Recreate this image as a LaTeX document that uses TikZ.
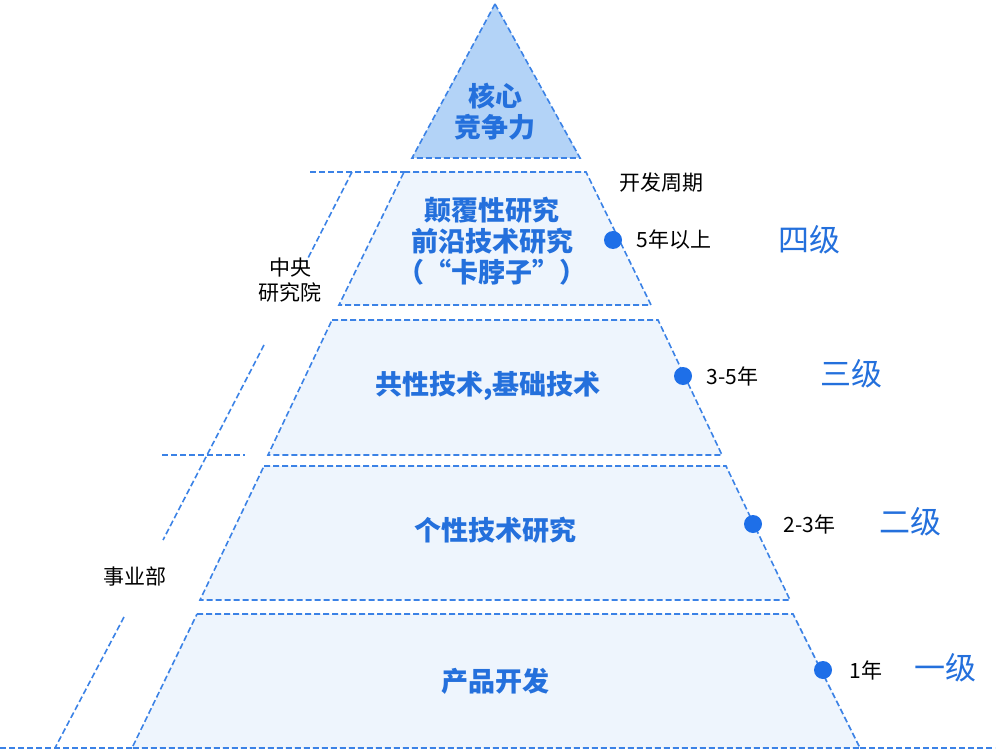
\documentclass[tikz,border=0pt]{standalone}
\usepackage{fontspec}
\setmainfont{Noto Sans CJK SC}
\begin{document}
\begin{tikzpicture}[x=1pt,y=-1pt,
  edge/.style={draw=lineblue,line width=1.6pt,dash pattern=on 6pt off 3pt},
  tiertext/.style={font=\bfseries\fontsize{27}{31}\selectfont,text=txtblue,align=center},
  side/.style={font=\fontsize{21}{25}\selectfont,align=center},
  lvl/.style={font=\fontsize{31}{35}\selectfont,text=txtblue},
  dotc/.style={circle,fill=dotblue,inner sep=0pt,minimum size=18pt}]
\definecolor{lineblue}{HTML}{3B82E6}
\definecolor{txtblue}{HTML}{2470DC}
\definecolor{dotblue}{HTML}{1E6FE8}
\definecolor{topfill}{HTML}{B3D3F7}
\definecolor{tierfill}{HTML}{EEF5FD}
\useasboundingbox (0,0) rectangle (1000,751);
% top triangle
\draw[edge,fill=topfill] (495,4) -- (580,158) -- (412,158) -- cycle;
% tiers
\draw[edge,fill=tierfill] (404,172) -- (586,172) -- (651,305) -- (339,305) -- cycle;
\draw[edge,fill=tierfill] (332,320) -- (658,320) -- (722,455) -- (268,455) -- cycle;
\draw[edge,fill=tierfill] (264,466) -- (726,466) -- (790,600) -- (200,600) -- cycle;
\draw[edge,fill=tierfill] (197,614) -- (793,614) -- (860,748) -- (132,748) -- cycle;
% extension lines
\draw[edge] (310,172) -- (404,172);
\draw[edge] (162,455) -- (245,455);
\draw[edge] (0,748) -- (132,748);
\draw[edge] (860,748) -- (995,748);
\draw[edge] (352,172) -- (306,262);
\draw[edge] (264,345) -- (163,540);
\draw[edge] (124,617) -- (55,748);
% texts
\node[tiertext] (t0) at (495,112) {核心\\竞争力};
\node[tiertext] (t4) at (492,241) {颠覆性研究\\前沿技术研究\\（“卡脖子”）};
\node[tiertext] (t3) at (488,386) {共性技术,基础技术};
\node[tiertext] (t2) at (495,530) {个性技术研究};
\node[tiertext] (t1) at (495,681) {产品开发};
\node[side] (zy) at (290,280) {中央\\研究院};
\node[side] (sy) at (135,577) {事业部};
\node[side] (kf) at (661,183) {开发周期};
% dots and labels
\node[dotc] (d4) at (613,240) {};
\node[dotc] (d3) at (683,376) {};
\node[dotc] (d2) at (753,524) {};
\node[dotc] (d1) at (823,670) {};
\node[side,anchor=west] (p4) at (633,240) {5年以上};
\node[side,anchor=west] (p3) at (703,376) {3-5年};
\node[side,anchor=west] (p2) at (780,524) {2-3年};
\node[side,anchor=west] (p1) at (846,670) {1年};
\node[lvl] (l4) at (809,240) {四级};
\node[lvl] (l3) at (851,374) {三级};
\node[lvl] (l2) at (910,522) {二级};
\node[lvl] (l1) at (945,668) {一级};
\end{tikzpicture}
\end{document}
